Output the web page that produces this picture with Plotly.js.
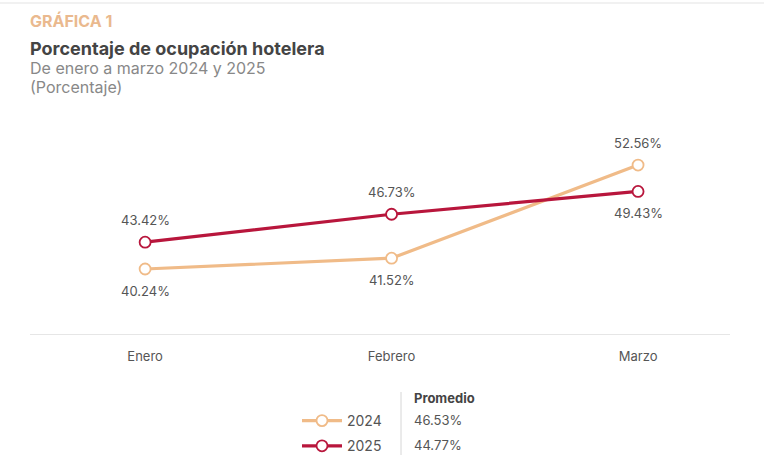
<!DOCTYPE html>
<html><head><meta charset="utf-8">
<script src="https://cdn.plot.ly/plotly-3.0.1.min.js"></script>
<style>html,body{margin:0;padding:0;background:#fff}#chart{width:764px;height:467px}</style>
</head><body><div id="chart"></div>
<script>
const months = ["Enero", "Febrero", "Marzo"];
const series = ["2024", "2025"];
const values2024 = [40.24, 41.52, 52.56];
const values2025 = [43.42, 46.73, 49.43];
const labelSide2024 = [-1, -1, 1];
const labelSide2025 = [1, 1, -1];
const promedio = ["46.53%", "44.77%"];
const colors = ["#f0bb88", "#b8163c"];

const FONT = "Inter, 'Noto Sans', sans-serif";
const L = 30, R = 34, T = 130, B = 133, W = 764, H = 467;
const pw = W - L - R, ph = H - T - B;
const px = v => (v - L) / pw;
const py = v => (H - B - v) / ph;

function trace(name, vals, color) {
  return {
    x: months, y: vals, name: name, legendgroup: name, type: "scatter", mode: "lines+markers",
    line: {color: color, width: 3.2},
    marker: {symbol: "circle", size: 11, color: "#ffffff", line: {color: color, width: 1.8}},
    hoverinfo: "skip"
  };
}
const data = [trace(series[0], values2024, colors[0]), trace(series[1], values2025, colors[1])];

const annotations = [];
function addLabels(vals, sides) {
  vals.forEach((v, i) => annotations.push({
    x: months[i], y: v, xref: "x", yref: "y", text: v.toFixed(2) + "%",
    showarrow: false, yshift: sides[i] * 22, font: {family: FONT, size: 13, color: "#555"}
  }));
}
addLabels(values2024, labelSide2024);
addLabels(values2025, labelSide2025);

annotations.push(
  {xref: "paper", yref: "paper", x: px(28), y: py(21), xanchor: "left", yanchor: "middle", showarrow: false,
   text: "<b>GRÁFICA 1</b>", font: {family: FONT, size: 16, color: "#eab98e"}},
  {xref: "paper", yref: "paper", x: px(28), y: py(48), xanchor: "left", yanchor: "middle", showarrow: false,
   text: "<b>Porcentaje de ocupación hotelera</b>", font: {family: FONT, size: 18, color: "#444"}},
  {xref: "paper", yref: "paper", x: px(28), y: py(68), xanchor: "left", yanchor: "middle", showarrow: false,
   text: "De enero a marzo 2024 y 2025", font: {family: FONT, size: 16, color: "#888"}},
  {xref: "paper", yref: "paper", x: px(28), y: py(87), xanchor: "left", yanchor: "middle", showarrow: false,
   text: "(Porcentaje)", font: {family: FONT, size: 16, color: "#888"}},
  {xref: "paper", yref: "paper", x: px(412), y: py(398), xanchor: "left", yanchor: "middle", showarrow: false,
   text: "<b>Promedio</b>", font: {family: FONT, size: 13, color: "#444"}},
  {xref: "paper", yref: "paper", x: px(412), y: py(420), xanchor: "left", yanchor: "middle", showarrow: false,
   text: promedio[0], font: {family: FONT, size: 13, color: "#555"}},
  {xref: "paper", yref: "paper", x: px(412), y: py(445), xanchor: "left", yanchor: "middle", showarrow: false,
   text: promedio[1], font: {family: FONT, size: 13, color: "#555"}}
);

const layout = {
  width: W, height: H,
  margin: {l: L, r: R, t: T, b: B, autoexpand: false},
  paper_bgcolor: "#fff", plot_bgcolor: "#fff",
  font: {family: FONT, color: "#555"},
  showlegend: true,
  legend: {x: px(297), y: py(405), xanchor: "left", yanchor: "top", orientation: "v",
           font: {family: FONT, size: 14, color: "#555"}, itemwidth: 40, tracegroupgap: 4,
           bgcolor: "rgba(0,0,0,0)"},
  xaxis: {type: "category", range: [-0.467, 2.373], showgrid: false, zeroline: false,
          showline: true, linecolor: "#e6e6e6", linewidth: 1, ticks: "", ticklabelstandoff: 10,
          tickfont: {family: FONT, size: 13, color: "#555"}, fixedrange: true},
  yaxis: {range: [32.54, 56.71], visible: false, showgrid: false, zeroline: false, fixedrange: true},
  shapes: [
    {type: "line", xref: "paper", yref: "paper", x0: px(0), x1: px(764), y0: py(3), y1: py(3),
     line: {color: "#e3e3e3", width: 1}},
    {type: "line", xref: "paper", yref: "paper", x0: px(401), x1: px(401), y0: py(392), y1: py(455),
     line: {color: "#d6d6d6", width: 1}}
  ],
  annotations: annotations
};
Plotly.newPlot("chart", data, layout, {displayModeBar: false, staticPlot: true});
</script></body></html>
